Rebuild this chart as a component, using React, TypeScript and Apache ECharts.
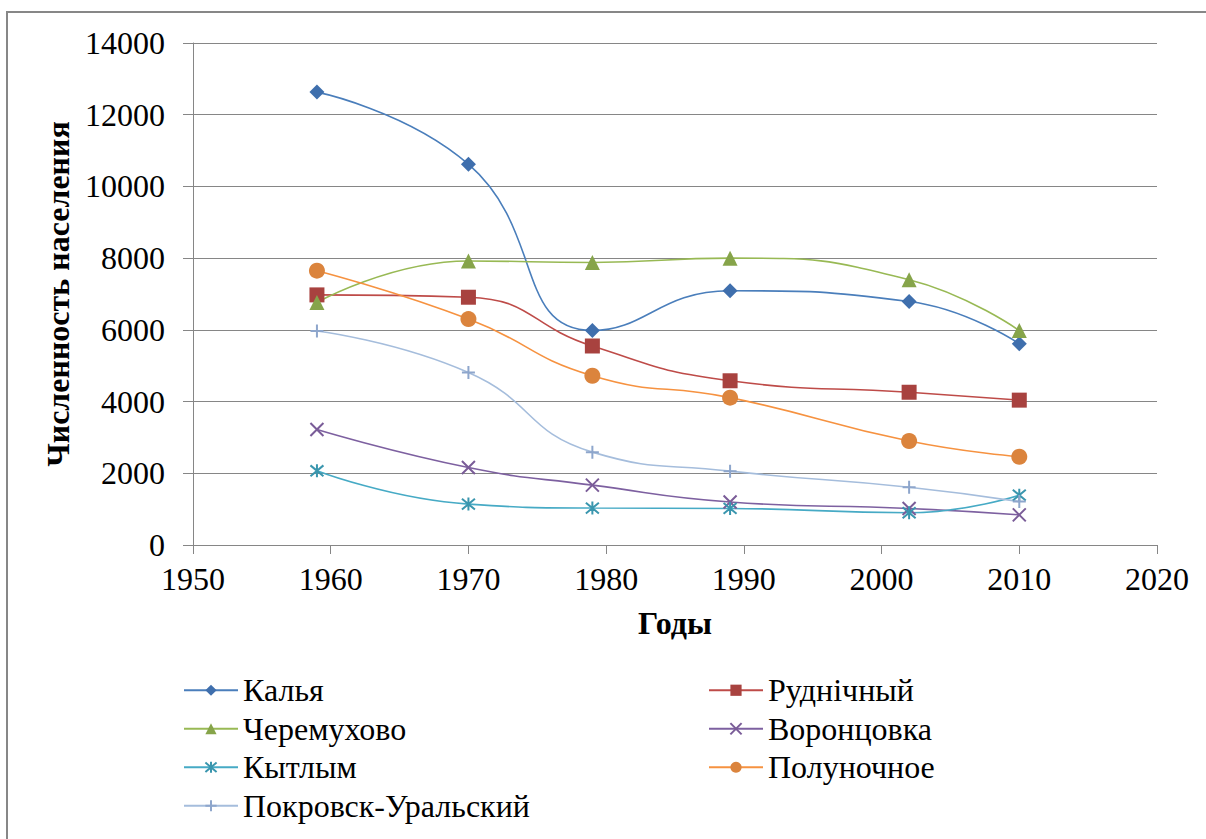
import React, { useEffect, useRef } from "react";
import * as echarts from "echarts";

const years = [1959, 1970, 1979, 1989, 2002, 2010];
const names = [
  "Калья",
  "Руднічный",
  "Черемухово",
  "Воронцовка",
  "Кытлым",
  "Полуночное",
  "Покровск-Уральский",
];
const kalya = [12630, 10620, 5980, 7090, 6790, 5610];
const rudnichny = [6975, 6910, 5550, 4580, 4260, 4040];
const cheremukhovo = [6760, 7920, 7880, 8000, 7400, 5980];
const vorontsovka = [3220, 2160, 1670, 1200, 1020, 840];
const kytlym = [2070, 1140, 1030, 1020, 900, 1390];
const polunochnoe = [7650, 6300, 4720, 4110, 2900, 2460];
const pokrovsk = [5970, 4810, 2590, 2060, 1610, 1210];
const values = [kalya, rudnichny, cheremukhovo, vorontsovka, kytlym, polunochnoe, pokrovsk];

const legendLeft = ["Калья", "Черемухово", "Кытлым", "Покровск-Уральский"];
const legendRight = ["Руднічный", "Воронцовка", "Полуночное"];

const xMin = 1950;
const xMax = 2020;
const xStep = 10;
const yMin = 0;
const yMax = 14000;
const yStep = 2000;

const lineColors = ["#4A7EBB", "#BE4B48", "#98B954", "#7D60A0", "#46AAC5", "#F69240", "#A5BDDC"];
const markColors = ["#3F6FAD", "#A8423F", "#86A44A", "#7A5C98", "#3A96AE", "#DB843D", "#8EA6CC"];
const symbols = [
  "diamond",
  "rect",
  "triangle",
  "path://M0,0L10,10M10,0L0,10",
  "path://M0,0L10,10M10,0L0,10M5,-1L5,11",
  "circle",
  "path://M5,0L5,10M0,5L10,5",
];
const sizes = [15, 15, 15, 13, 13, 16, 13];
const stroked = [false, false, false, true, true, false, true];

const FONT = "Liberation Serif, Times New Roman, serif";

export default function App() {
  const ref = useRef<HTMLDivElement>(null);
  useEffect(() => {
    if (!ref.current) return;
    const chart = echarts.init(ref.current, undefined, { renderer: "svg" });
    const series = names.map((n, i) => ({
      name: n,
      type: "line",
      smooth: 0.5,
      smoothConstraint: false,
      data: years.map((y, j) => [y, values[i][j]]),
      symbol: symbols[i],
      symbolSize: sizes[i],
      showSymbol: true,
      lineStyle: { color: lineColors[i], width: 1.6 },
      itemStyle: stroked[i]
        ? { color: "rgba(0,0,0,0)", borderColor: markColors[i], borderWidth: 2 }
        : { color: markColors[i], borderWidth: 0 },
      emphasis: { disabled: true },
    }));
    const legendCommon = {
      orient: "vertical",
      top: 671,
      padding: 0,
      itemWidth: 54,
      itemHeight: 14,
      itemGap: 0,
      textStyle: { fontFamily: FONT, fontSize: 32, color: "#000", lineHeight: 38.5 },
      selectedMode: false,
    };
    const fmt = (v: number) => String(v);
    chart.setOption({
      animation: false,
      backgroundColor: "#fff",
      textStyle: { fontFamily: FONT },
      graphic: [
        {
          type: "rect",
          shape: { x: 7, y: 12, width: 1400, height: 1000 },
          style: { fill: "none", stroke: "#878787", lineWidth: 2 },
          silent: true,
        },
      ],
      grid: { left: 193, right: 49, top: 43, bottom: 294, containLabel: false },
      xAxis: {
        type: "value",
        min: xMin,
        max: xMax,
        interval: xStep,
        name: "Годы",
        nameLocation: "middle",
        nameGap: 62,
        nameTextStyle: { fontFamily: FONT, fontSize: 32, fontWeight: "bold", color: "#000" },
        axisLine: { show: true, lineStyle: { color: "#868686", width: 1 } },
        axisTick: { show: true, length: 9, lineStyle: { color: "#868686" } },
        axisLabel: { fontFamily: FONT, fontSize: 32, color: "#000", margin: 18, formatter: fmt },
        splitLine: { show: false },
      },
      yAxis: {
        type: "value",
        min: yMin,
        max: yMax,
        interval: yStep,
        name: "Численность населения",
        nameLocation: "middle",
        nameRotate: 90,
        nameGap: 116,
        nameTextStyle: { fontFamily: FONT, fontSize: 32, fontWeight: "bold", color: "#000" },
        axisLine: { show: true, lineStyle: { color: "#868686", width: 1 } },
        axisTick: { show: true, length: 10, lineStyle: { color: "#868686" } },
        axisLabel: { fontFamily: FONT, fontSize: 32, color: "#000", margin: 28, formatter: fmt },
        splitLine: { show: true, lineStyle: { color: "#868686", width: 1 } },
      },
      legend: [
        { ...legendCommon, left: 183, data: legendLeft },
        { ...legendCommon, left: 708, data: legendRight },
      ],
      series,
    });
    return () => chart.dispose();
  }, []);
  return (
    <div
      ref={ref}
      style={{ position: "fixed", left: 0, top: 0, width: 1206, height: 839, background: "#fff" }}
    />
  );
}
